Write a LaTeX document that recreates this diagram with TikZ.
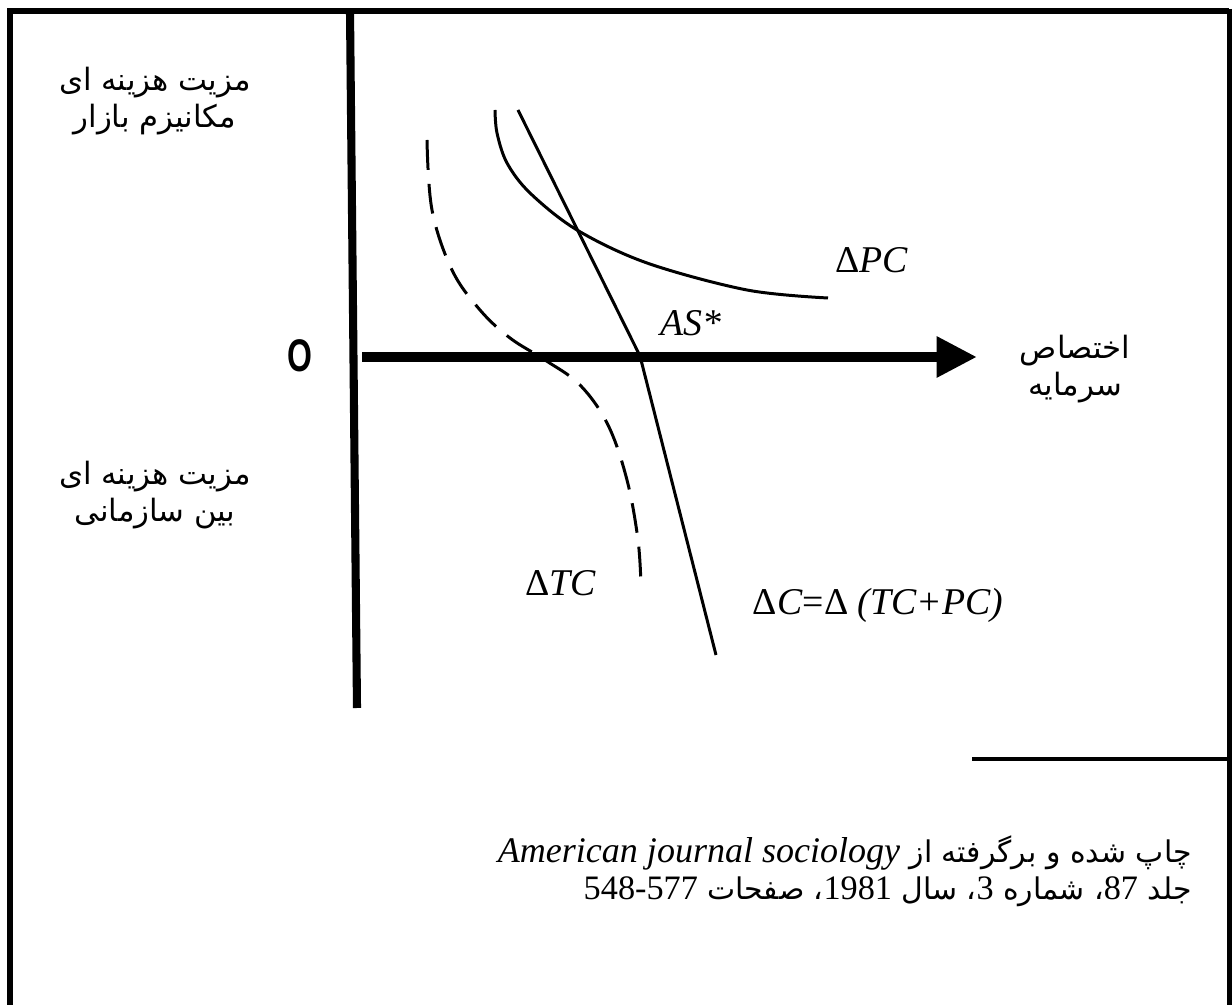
\documentclass[tikz,border=0pt]{standalone}
\usepackage{fontspec}
\setmainfont{Liberation Serif}
\newfontfamily\arabicfont[Script=Arabic]{DejaVu Sans}
\newfontfamily\labelsans{Liberation Sans}
\TeXXeTstate=1
\usetikzlibrary{arrows.meta, positioning}

\begin{document}
\begin{tikzpicture}[
    x=0.2mm, y=-0.2mm,
    every node/.style={inner sep=0pt},
    frameline/.style={line width=3.4pt},
    axisline/.style={line width=4.6pt},
    curve/.style={line width=1.7pt},
    fa/.style={font=\arabicfont\fontsize{17.5}{21.5}\selectfont, align=center},
    lbl/.style={font=\fontsize{21.5}{24}\selectfont}
]
    \useasboundingbox (0,0) rectangle (1232,1005);

    % Frame
    \draw[frameline] (10,1005) -- (10,11) -- (1229,11);
    \draw[line width=2.4pt] (1229.5,9) -- (1229.5,1005);
    \coordinate (rulestart) at (972,759);
    \coordinate (ruleend) at (1229,759);
    \draw[line width=2pt] (rulestart) -- (ruleend);

    % Axes
    \coordinate (ytop) at (350,11);
    \coordinate (ybot) at (357,708);
    \coordinate (xstart) at (362,357);
    \coordinate (xend) at (977,357);
    \draw[axisline] (ytop) -- (ybot);
    \draw[line width=5.7pt, -{Triangle[length=23pt,width=22pt]}] (xstart) -- (xend);
    \node[font=\labelsans\bfseries\fontsize{26}{26}\selectfont] (origin) at (300,356) {\scalebox{0.7}[1]{O}};

    % Curves
    \draw[curve] plot[smooth, tension=0.55] coordinates {(495,110) (497,133) (507,163) (530,193) (577,230) (647,263) (747,290) (828,298)};
    \draw[curve, dash pattern=on 17pt off 8pt] plot[smooth, tension=0.6] coordinates {(427,140) (432,210) (452,270) (480,310) (510,338) (545,360) (580,385) (608,425) (627,480) (638,540) (641,586)};
    \draw[curve] (518,110) -- (640,356) -- (716,655);

    % Curve labels
    \node[lbl] (pc) at (872,260) {Δ\textit{PC}};
    \node[lbl] (as) at (691,323) {\textit{AS*}};
    \node[lbl] (tc) at (561,583) {Δ\textit{TC}};
    \node[lbl] (sumc) at (878,605) {Δ\textit{C}=Δ \textit{(TC+PC)}};

    % Persian labels
    \node[fa] (market) at (155,101) {\beginR مزیت هزینه ای\endR\\\beginR مکانیزم بازار\endR};
    \node[fa] (inter) at (155,495) {\beginR مزیت هزینه ای\endR\\\beginR بین سازمانی\endR};
    \node[fa] (alloc) at (1075,369) {\beginR اختصاص\endR\\\beginR سرمایه\endR};

    % Source
    \node[fa, align=right, anchor=east, font=\arabicfont\fontsize{17}{21}\selectfont] (source) at (1192,871)
        {\beginR چاپ شده و برگرفته از \beginL{\rmfamily\itshape\fontsize{20.5}{21}\selectfont American journal sociology}\endL\endR\\
         \beginR جلد {\rmfamily\fontsize{19.5}{21}\selectfont\beginL 87\endL}، شماره {\rmfamily\fontsize{19.5}{21}\selectfont\beginL 3\endL}، سال {\rmfamily\fontsize{19.5}{21}\selectfont\beginL 1981\endL}، صفحات {\rmfamily\fontsize{19.5}{21}\selectfont\beginL 548-577\endL}\endR};
\end{tikzpicture}
\end{document}
